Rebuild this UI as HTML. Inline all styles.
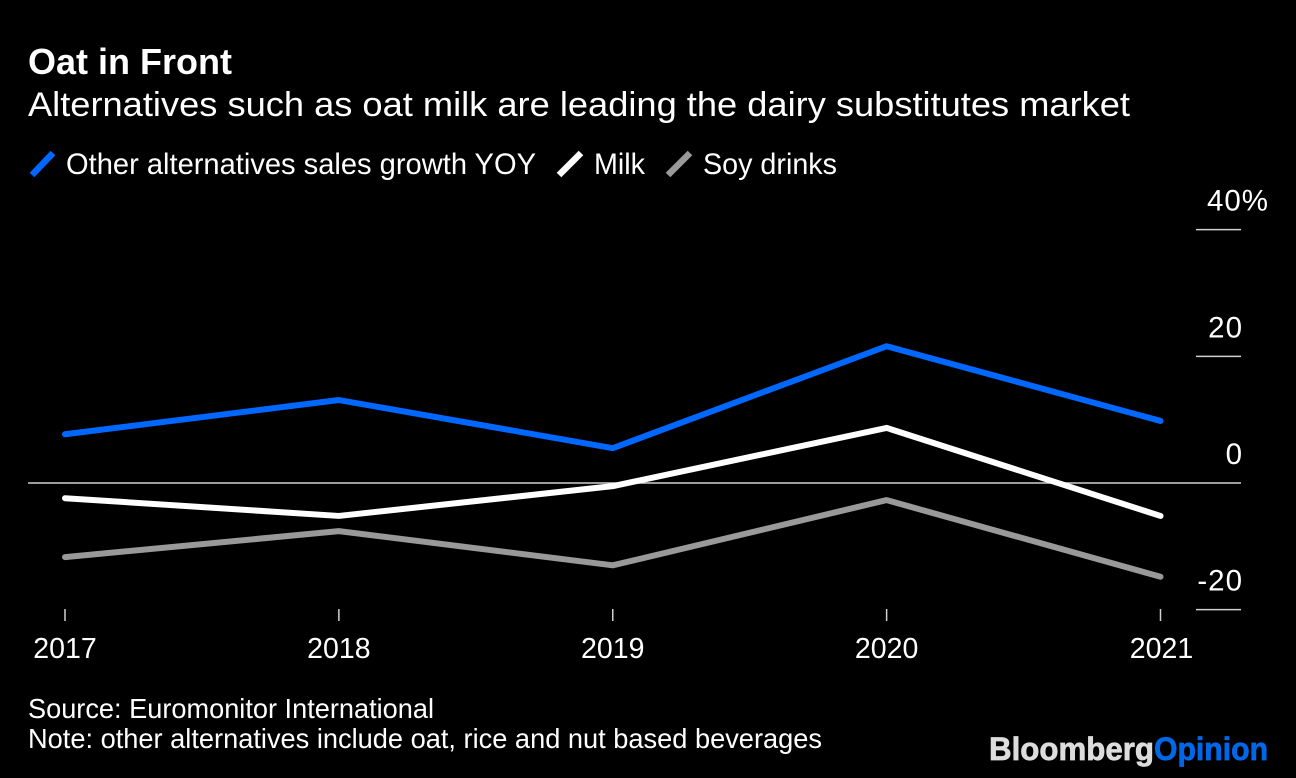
<!DOCTYPE html>
<html>
<head>
<meta charset="utf-8">
<style>
html,body{margin:0;padding:0;background:#000;width:1296px;height:778px;overflow:hidden}
svg{display:block}
text{font-family:"Liberation Sans",sans-serif;fill:#fff}
</style>
</head>
<body>
<svg id="chart" width="1296" height="778" viewBox="0 0 1296 778" xmlns="http://www.w3.org/2000/svg">
<rect width="1296" height="778" fill="#000"/>
<text x="28" y="74" font-size="36.5" font-weight="700" textLength="204" lengthAdjust="spacingAndGlyphs">Oat in Front</text>
<text x="28" y="116" font-size="34.5" textLength="1102" lengthAdjust="spacingAndGlyphs">Alternatives such as oat milk are leading the dairy substitutes market</text>
<g>
<line x1="32" y1="175" x2="53" y2="153" stroke="#0068ff" stroke-width="6.5"/>
<text x="66" y="174" font-size="29.5" textLength="470" lengthAdjust="spacingAndGlyphs">Other alternatives sales growth YOY</text>
<line x1="559" y1="175" x2="581" y2="153" stroke="#fff" stroke-width="6.5"/>
<text x="594" y="174" font-size="29.5" textLength="51" lengthAdjust="spacingAndGlyphs">Milk</text>
<line x1="668" y1="175" x2="690" y2="153" stroke="#999" stroke-width="6.5"/>
<text x="703" y="174" font-size="29.5" textLength="134" lengthAdjust="spacingAndGlyphs">Soy drinks</text>
</g>
<g id="axes"></g>
<g id="series"></g>
<text x="28" y="718" font-size="27.5" textLength="406" lengthAdjust="spacingAndGlyphs">Source: Euromonitor International</text>
<text x="28" y="748" font-size="27.5" textLength="794" lengthAdjust="spacingAndGlyphs">Note: other alternatives include oat, rice and nut based beverages</text>
<text x="989" y="760" font-size="32" font-weight="700" stroke="#dcdcdc" stroke-width="0.7" style="fill:#dcdcdc" textLength="165" lengthAdjust="spacingAndGlyphs">Bloomberg</text>
<text x="1154" y="760" font-size="32" font-weight="700" stroke="#0068e8" stroke-width="0.7" style="fill:#0068e8" textLength="114" lengthAdjust="spacingAndGlyphs">Opinion</text>
</svg>
<script>
const categories = ['2017', '2018', '2019', '2020', '2021'];
const otherAlternatives = [7.7, 13.1, 5.5, 21.6, 9.8];
const milk = [-2.4, -5.2, -0.5, 8.7, -5.2];
const soyDrinks = [-11.7, -7.6, -13, -2.7, -14.8];
const yTicks = [40, 20, 0, -20];
const yTickLabels = ['40%', '20', '0', '-20'];

const NS = 'http://www.w3.org/2000/svg';
const xScale = i => 65 + i * (1160.5 - 65) / (categories.length - 1);
const yScale = v => 483 - v * 6.333;
const axes = document.getElementById('axes');
const seriesGroup = document.getElementById('series');

function make(tag, attrs, parent, content) {
  const el = document.createElementNS(NS, tag);
  for (const k in attrs) el.setAttribute(k, attrs[k]);
  if (content !== undefined) el.textContent = content;
  parent.appendChild(el);
  return el;
}

yTicks.forEach((t, i) => {
  const isZero = t === 0;
  const grid = make('line', {x1: isZero ? 28 : 1196, x2: 1241, y1: yScale(t), y2: yScale(t), stroke: '#d0d0d0', 'stroke-width': 1.5}, axes);
  
  
  const label = make('text', {x: t === 40 ? 1269 : 1243, y: yScale(t) - 19, 'font-size': 29.5, 'text-anchor': 'end', 'letter-spacing': 1}, axes, yTickLabels[i]);
  
  
});

categories.forEach((c, i) => {
  const tick = make('line', {x1: xScale(i), x2: xScale(i), y1: 609, y2: 621, stroke: '#d0d0d0', 'stroke-width': 1.5}, axes);
  
  
  const label = make('text', {x: xScale(i) - (i === 0 ? 0 : (i === 4 ? -1 : 0)), y: 658, 'font-size': 28.5, 'text-anchor': 'middle'}, axes, c);
  
  
});

function drawLine(values, color, name) {
  const pts = values.map((v, i) => xScale(i) + ',' + yScale(v)).join(' ');
  const line = make('polyline', {points: pts, fill: 'none', stroke: color, 'stroke-width': 6, 'stroke-linejoin': 'round', 'stroke-linecap': 'round'}, seriesGroup);
  
  
}
drawLine(soyDrinks, '#999999', 'soy-drinks-line');
drawLine(milk, '#ffffff', 'milk-line');
drawLine(otherAlternatives, '#0068ff', 'other-alternatives-line');
</script>
</body>
</html>
